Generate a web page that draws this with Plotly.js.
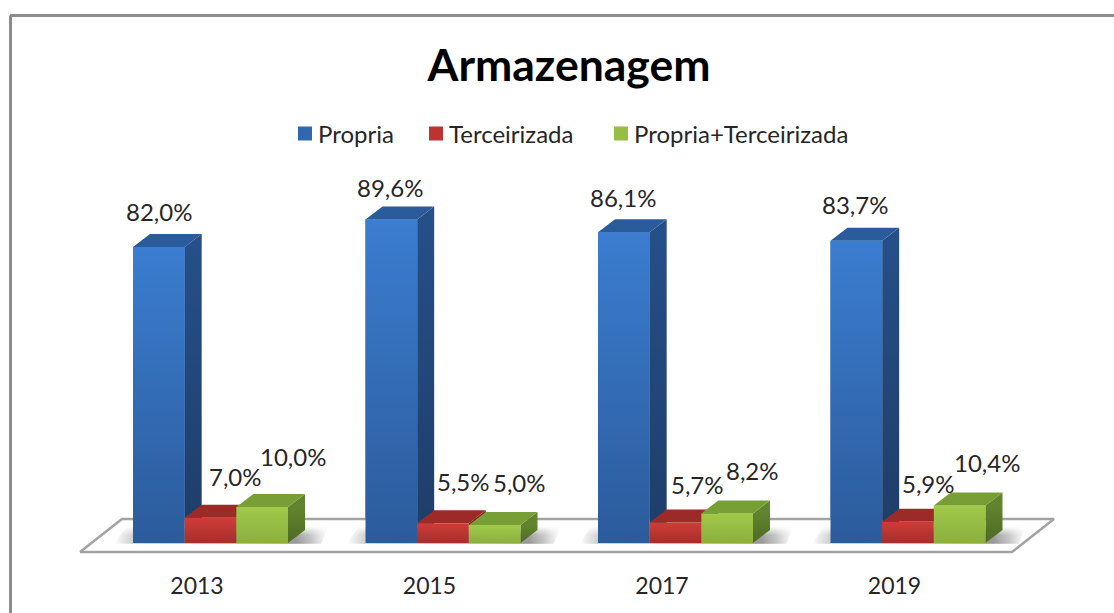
<!DOCTYPE html>
<html>
<head>
<meta charset="utf-8">
<script src="https://cdn.plot.ly/plotly-3.0.1.min.js"></script>
<style>html,body{margin:0;padding:0;background:#fff;overflow:hidden}</style>
</head>
<body>
<div id="chart" style="width:1114px;height:613px"></div>
<script>
const categories = ['2013', '2015', '2017', '2019'];
const propria = [82.0, 89.6, 86.1, 83.7];
const terceirizada = [7.0, 5.5, 5.7, 5.9];
const ambas = [10.0, 5.0, 8.2, 10.4];
const seriesNames = ['Propria', 'Terceirizada', 'Propria+Terceirizada'];

const seriesValues = [propria, terceirizada, ambas];
const palette = [
  {flat:'#3068b0', hi:'#3b7dd0', lo:'#2b5b9b', top:'#2a5b9a', sideHi:'#254f88', sideLo:'#1e3d68'},
  {flat:'#bb3431', hi:'#d03c38', lo:'#a52e2b', top:'#9c2b28', sideHi:'#84231f', sideLo:'#701d1a'},
  {flat:'#97bd45', hi:'#a0ca4a', lo:'#8cae3e', top:'#789f36', sideHi:'#62842e', sideLo:'#4e6a23'}
];
// pixel geometry of the page -> axis ranges
const PX = {left:40, right:1090, top:170, bottom:570, x0:210.5, pitch:232.5, y0:543, perUnit:3.61};
const xRange = [(PX.left-PX.x0)/PX.pitch, (PX.right-PX.x0)/PX.pitch];
const yRange = [(PX.y0-PX.bottom)/PX.perUnit, (PX.y0-PX.top)/PX.perUnit];
const paperX = px => (px-PX.left)/(PX.right-PX.left);
const paperY = py => (PX.bottom-py)/(PX.bottom-PX.top);
const groupWidth = 2/3, barW = groupWidth/3;
const dx = 17/PX.pitch, dy = 13/PX.perUnit;
const labelShiftX = [[0,-1,-1,-1],[25,20,22,20],[31,25,25,27]];
const labelShiftY = [[22,19,22,23],[28,29,25,25],[37,29,30,30]];

const legendIds = ['legend', 'legend2', 'legend3'];
const legendTextPx = [318, 449, 634];
const traces = [];
const positions = categories.map((_, i) => i);
seriesValues.forEach((vals, s) => {
  traces.push({type:'bar', name:seriesNames[s], x:positions, y:vals, legend:legendIds[s],
    marker:{color:palette[s].flat, line:{width:0}}, hoverinfo:'name+y'});
});
function poly(xs, ys, extra){
  return Object.assign({type:'scatter', mode:'lines', x:xs.concat(xs[0]), y:ys.concat(ys[0]),
    fill:'toself', line:{width:0}, showlegend:false, hoverinfo:'skip'}, extra);
}
// floor
const fy0 = -9/PX.perUnit, fy1 = 24/PX.perUnit;
const fl = (80-PX.x0)/PX.pitch, fr = (1012-PX.x0)/PX.pitch, fbk = 42/PX.pitch;
traces.push(poly([fl, fr, fr+fbk, fl+fbk],[fy0, fy0, fy1, fy1],
  {fillcolor:'#ffffff', line:{width:2.5, color:'#a3a3a3'}}));
// soft shadows on the floor
positions.forEach(i => {
  const a = i - groupWidth/2 - 0.08;
  const b = i + groupWidth/2 + dx + 0.07;
  const sy0 = -0.2, sy1 = 16/PX.perUnit;
  traces.push(poly([a, b, b+0.03, a+0.05],[sy0, sy0, sy1, sy1], {
    fillgradient:{type:'horizontal', start:a, stop:b+0.03,
      colorscale:[[0,'rgba(130,130,130,0)'],[0.09,'rgba(130,130,130,0.5)'],[0.85,'rgba(90,90,90,0.75)'],[0.92,'rgba(110,110,110,0.5)'],[1,'rgba(130,130,130,0)']]}
  }));
  traces.push(poly([a-0.01, b+0.01, b+0.05, a+0.04],[sy0, sy0, sy1+0.2, sy1+0.2], {
    fillgradient:{type:'vertical', start:sy0, stop:sy1+0.2,
      colorscale:[[0,'rgba(255,255,255,0.15)'],[0.5,'rgba(255,255,255,0.25)'],[1,'rgba(255,255,255,1)']]}
  }));
});
// 3-D faces
positions.forEach(i => {
  seriesValues.forEach((vals, s) => {
    const v = vals[i], x0 = i - groupWidth/2 + s*barW, x1 = x0 + barW, p = palette[s];
    traces.push(poly([x1, x1+dx, x1+dx, x1],[0, dy, v+dy, v], {
      fillgradient:{type:'vertical', start:0, stop:v, colorscale:[[0,p.sideLo],[1,p.sideHi]]}}));
    traces.push(poly([x0, x1, x1+dx, x0+dx],[v, v, v+dy, v+dy], {fillcolor:p.top}));
    traces.push(poly([x0, x1, x1, x0],[0, 0, v, v], {
      fillgradient:{type:'vertical', start:0, stop:v, colorscale:[[0,p.lo],[1,p.hi]]}}));
  });
});
const annotations = [];
seriesValues.forEach((vals, s) => vals.forEach((v, i) => {
  annotations.push({x:i - groupWidth/2 + (s+0.5)*barW, y:v + dy, xref:'x', yref:'y',
    text:v.toFixed(1).replace('.', ',') + '%', showarrow:false, xanchor:'center', yanchor:'middle',
    xshift:labelShiftX[s][i], yshift:labelShiftY[s][i],
    font:{family:'Lato, sans-serif', size:24, color:'#262626'}});
}));
const layout = {
  width:1114, height:613,
  paper_bgcolor:'#ffffff', plot_bgcolor:'rgba(0,0,0,0)',
  margin:{l:PX.left, r:1114-PX.right, t:PX.top, b:613-PX.bottom, pad:0},
  font:{family:'Lato, sans-serif', color:'#262626'},
  title:{text:'<b>Armazenagem</b>', font:{family:'Lato, sans-serif', size:44.5, color:'#000'},
    x:569/1114, xanchor:'center', y:1-65/613, yanchor:'middle'},
  barmode:'group', bargap:1/3, bargroupgap:0,
  xaxis:{range:xRange, tickmode:'array', tickvals:positions.map(p => p - 13.5/PX.pitch), ticktext:categories,
    showgrid:false, zeroline:false, showline:false, ticks:'', fixedrange:true,
    tickfont:{family:'Lato, sans-serif', size:23, color:'#262626'}},
  yaxis:{range:yRange, visible:false, fixedrange:true},
  shapes:[
    {type:'line', xref:'paper', yref:'paper', x0:paperX(10), x1:paperX(1114), y0:paperY(15.5), y1:paperY(15.5), line:{color:'#8c8c8c', width:3}},
    {type:'line', xref:'paper', yref:'paper', x0:paperX(10.5), x1:paperX(10.5), y0:paperY(15.5), y1:paperY(613), line:{color:'#8c8c8c', width:3}}
  ],
  annotations
};
legendIds.forEach((id, s) => {
  layout[id] = {orientation:'h', x:paperX(legendTextPx[s]-40), xanchor:'left', y:paperY(134), yanchor:'middle',
    font:{family:'Lato, sans-serif', size:24, color:'#262626'}, bgcolor:'rgba(0,0,0,0)'};
});
Plotly.newPlot('chart', traces, layout, {displayModeBar:false, responsive:false}).then(() => {
  document.querySelectorAll('.legendpoints').forEach(g => g.setAttribute('transform', 'translate(7,0)'));
  document.querySelectorAll('.legendpoints path').forEach(p => p.setAttribute('d', 'M7,7H-7V-7H7Z'));
});
</script>
</body>
</html>
